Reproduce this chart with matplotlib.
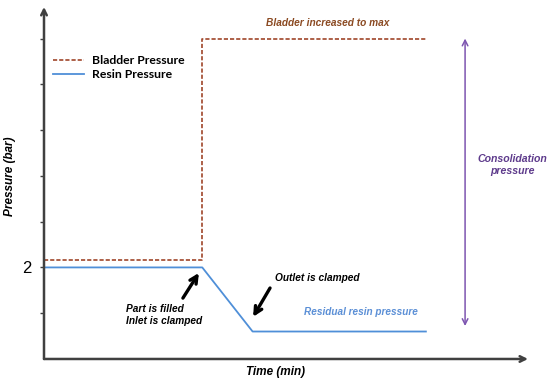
import matplotlib.pyplot as plt

# data (x in arbitrary time units, y in bar)
bladder_time = [0, 3.27, 3.27, 7.89]
bladder_pressure = [2.16, 2.16, 7.0, 7.0]
resin_time = [0, 3.27, 4.31, 7.89]
resin_pressure = [2.0, 2.0, 0.6, 0.6]
ytick_pos = [1, 2, 3, 4, 5, 6, 7]
ytick_lab = ['', '2', '', '', '', '', '']

plt.rcParams['font.family'] = ['Liberation Sans', 'DejaVu Sans']

fig = plt.figure(figsize=(5.5, 3.86), dpi=100)
ax = fig.add_axes([0.08, 0.07, 0.88, 0.912])
ax.set_xlim(0, 10)
ax.set_ylim(0, 7.69)
for s in ax.spines.values():
    s.set_visible(False)

# axes drawn as arrows
axis_col = '#404040'
ax.annotate('', xy=(0, 1), xytext=(0, 0), xycoords='axes fraction',
            arrowprops=dict(arrowstyle='->', lw=1.8, color=axis_col, shrinkA=0, shrinkB=0))
ax.annotate('', xy=(1, 0), xytext=(0, 0), xycoords='axes fraction',
            arrowprops=dict(arrowstyle='->', lw=1.8, color=axis_col, shrinkA=0, shrinkB=0))

ax.set_xticks([])
ax.set_yticks(ytick_pos)
ax.set_yticklabels(ytick_lab, fontsize=12)
ax.tick_params(axis='y', length=3, width=1, color=axis_col, pad=6)

l1, = ax.plot(bladder_time, bladder_pressure, ls=(0, (2.5, 1.2)), lw=1.2, color='#A0462A',
              label='Bladder Pressure')
l2, = ax.plot(resin_time, resin_pressure, lw=1.3, color='#4F8FD8', label='Resin Pressure')

leg = ax.legend(handles=[l1, l2], loc='upper left', bbox_to_anchor=(-0.005, 0.895),
                frameon=False, prop={'family': 'Lato', 'size': 8.8, 'weight': 'bold'},
                handlelength=2.6, handletextpad=0.6, labelspacing=0.25)

# annotations
ax.text(5.87, 7.34, 'Bladder increased to max', color='#8B4A22', fontsize=7.3,
        style='italic', weight='bold', ha='center', va='center')

ax.annotate('', xy=(8.70, 7.0), xytext=(8.70, 0.72),
            arrowprops=dict(arrowstyle='<->', lw=1.1, color='#7D55B0', shrinkA=0, shrinkB=0))
ax.text(9.67, 4.24, 'Consolidation\npressure', color='#5E3B8C', fontsize=7.6,
        style='italic', weight='bold', ha='center', va='center', linespacing=1.3)

ax.text(1.69, 0.96, 'Part is filled\nInlet is clamped', color='black', fontsize=7.3,
        style='italic', weight='bold', ha='left', va='center', linespacing=1.3)
ax.annotate('', xy=(3.2, 1.88), xytext=(2.87, 1.33),
            arrowprops=dict(arrowstyle='->', lw=2.4, color='black', mutation_scale=13,
                            shrinkA=0, shrinkB=0))

ax.text(4.77, 1.77, 'Outlet is clamped', color='black', fontsize=7.3,
        style='italic', weight='bold', ha='left', va='center')
ax.annotate('', xy=(4.32, 0.92), xytext=(4.67, 1.55),
            arrowprops=dict(arrowstyle='->', lw=2.4, color='black', mutation_scale=13,
                            shrinkA=0, shrinkB=0))

ax.text(5.37, 1.03, 'Residual resin pressure', color='#5B8FD6', fontsize=7.2,
        style='italic', weight='bold', ha='left', va='center')

fig.text(275 / 550, 1 - 372 / 386, 'Time (min)', fontsize=8.5, style='italic',
         weight='bold', ha='center', va='center')
fig.text(10 / 550, 1 - 176 / 386, 'Pressure (bar)', fontsize=8.5, style='italic',
         weight='bold', ha='center', va='center', rotation=90)

fig.savefig('out.png', dpi=100)
plt.close(fig)
